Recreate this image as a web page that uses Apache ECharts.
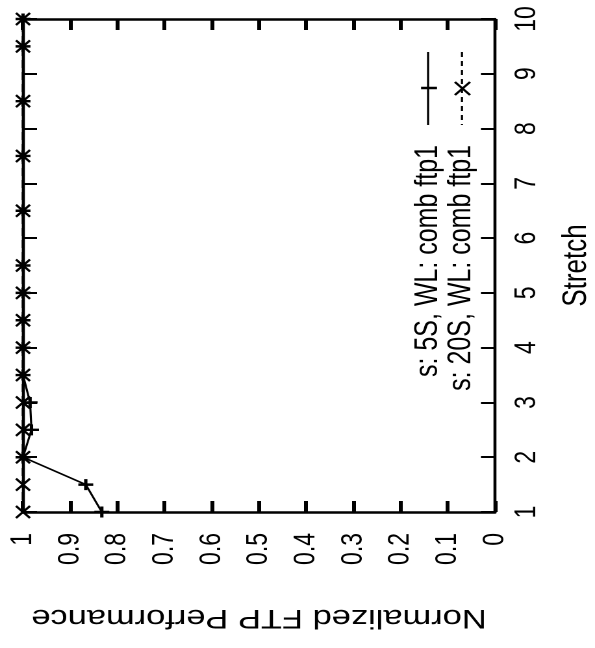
<!DOCTYPE html>
<html>
<head>
<meta charset="utf-8">
<script src="https://cdn.jsdelivr.net/npm/echarts@6/dist/echarts.min.js"></script>
<style>
  html, body { margin: 0; padding: 0; background: #fff; overflow: hidden; }
  /* the plot is laid out on a narrower canvas and widened horizontally */
  #chart { width: 458px; height: 648px; transform: scaleX(1.2991); transform-origin: 0 0; }
</style>
</head>
<body>
<div id="chart"></div>
<script>
// Stretch values (vertical axis) and normalized FTP performance (horizontal axis)
const stretch = [1, 1.5, 2, 2.5, 3, 3.5, 4, 4.5, 5, 5.5, 6.5, 7.5, 8.5, 9.5, 10];
const perf5S  = [0.833, 0.867, 1, 0.982, 0.985, 1, 1, 1, 1, 1, 1, 1, 1, 1, 1];
const perf20S = [1, 1, 1, 1, 1, 1, 1, 1, 1, 1, 1, 1, 1, 1, 1];
const seriesNames = ['s: 5S, WL: comb ftp1', 's: 20S, WL: comb ftp1'];
const perfAxisName = 'Normalized FTP Performance';
const stretchAxisName = 'Stretch';

const FONT = '"Liberation Sans", Arial, Helvetica, sans-serif';
const PLUS = 'path://M5,0L5,10M0,5L10,5';
const CROSS = 'path://M0,0L10,10M0,10L10,0';

const pairs = (xs, ys) => xs.map((v, i) => [v, ys[i]]);

const perfAxisBase = {
  type: 'value', min: 0, max: 1, interval: 0.1, inverse: true,
  splitLine: { show: false },
  axisLine: { show: true, onZero: false, lineStyle: { color: '#000', width: 2.5 } },
  axisTick: { show: true, inside: true, length: 11, lineStyle: { color: '#000', width: 3 } }
};
const stretchAxisBase = {
  type: 'value', min: 1, max: 10, interval: 1,
  splitLine: { show: false },
  axisLine: { show: true, onZero: false, lineStyle: { color: '#000', width: 2.3 } },
  axisTick: { show: true, inside: true, length: 10.8, lineStyle: { color: '#000', width: 2 } }
};

const chart = echarts.init(document.getElementById('chart'), null, { devicePixelRatio: 2 });
chart.setOption({
  backgroundColor: '#fff',
  animation: false,
  grid: { left: 17.7, right: 77, top: 19, bottom: 136, containLabel: false, outerBoundsMode: 'none' },
  xAxis: [
    Object.assign({}, perfAxisBase, {
      position: 'bottom',
      name: perfAxisName, nameLocation: 'middle', nameGap: 92, nameRotate: 180,
      nameTextStyle: { fontFamily: FONT, fontSize: 26.5, color: '#000' },
      axisLabel: { show: true, rotate: 90, margin: 21, fontFamily: FONT, fontSize: 23, color: '#000' }
    }),
    Object.assign({}, perfAxisBase, { position: 'top', axisLabel: { show: false } })
  ],
  yAxis: [
    Object.assign({}, stretchAxisBase, {
      position: 'right',
      name: stretchAxisName, nameLocation: 'middle', nameGap: 50, nameRotate: 90,
      nameTextStyle: { fontFamily: FONT, fontSize: 26, color: '#000' },
      axisLabel: { show: true, rotate: 90, margin: 13, fontFamily: FONT, fontSize: 23, color: '#000' }
    }),
    Object.assign({}, stretchAxisBase, { position: 'left', axisLabel: { show: false } })
  ],
  series: [
    {
      name: seriesNames[1], type: 'line', xAxisIndex: 0, yAxisIndex: 0,
      data: pairs(perf20S, stretch), clip: false,
      symbol: CROSS, symbolSize: [10.8, 12],
      itemStyle: { color: 'transparent', borderColor: '#000', borderWidth: 2 },
      lineStyle: { color: '#000', width: 2, type: 'dashed' }
    },
    {
      name: seriesNames[0], type: 'line', xAxisIndex: 0, yAxisIndex: 0,
      data: pairs(perf5S, stretch), clip: false,
      symbol: PLUS, symbolSize: [11.5, 11],
      itemStyle: { color: 'transparent', borderColor: '#000', borderWidth: 2.5 },
      lineStyle: { color: '#000', width: 1.6 }
    }
  ],
  graphic: [
    // key entry 1: solid line with plus marker
    { type: 'text', x: 329.5, y: 145, rotation: Math.PI / 2,
      style: { text: seriesNames[0], font: '25px ' + FONT, fill: '#000',
               align: 'right', verticalAlign: 'middle', textAlign: 'right', textVerticalAlign: 'middle' } },
    { type: 'line', shape: { x1: 329.5, y1: 52, x2: 329.5, y2: 125 }, style: { stroke: '#000', lineWidth: 1.6 } },
    { type: 'line', shape: { x1: 324.1, y1: 88, x2: 336.4, y2: 88 }, style: { stroke: '#000', lineWidth: 2.5 } },
    // key entry 2: dashed line with cross marker
    { type: 'text', x: 354.9, y: 145, rotation: Math.PI / 2,
      style: { text: seriesNames[1], font: '25px ' + FONT, fill: '#000',
               align: 'right', verticalAlign: 'middle', textAlign: 'right', textVerticalAlign: 'middle' } },
    { type: 'line', shape: { x1: 355.6, y1: 52, x2: 355.6, y2: 125 }, style: { stroke: '#000', lineWidth: 1.6, lineDash: [5, 4] } },
    { type: 'line', shape: { x1: 350.2, y1: 82, x2: 361.8, y2: 95 }, style: { stroke: '#000', lineWidth: 2 } },
    { type: 'line', shape: { x1: 350.2, y1: 95, x2: 361.8, y2: 82 }, style: { stroke: '#000', lineWidth: 2 } }
  ]
});
</script>
</body>
</html>
